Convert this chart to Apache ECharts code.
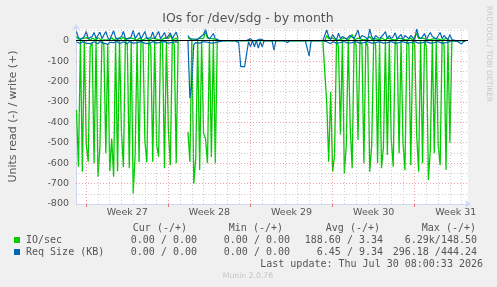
<!DOCTYPE html>
<html>
<head>
<meta charset="utf-8">
<title>IOs for /dev/sdg - by month</title>
<script src="https://cdn.jsdelivr.net/npm/echarts@6.0.0/dist/echarts.min.js"></script>
<style>
  html, body { margin: 0; padding: 0; background: #f0f0f0; }
  #chart { width: 497px; height: 287px; }
</style>
</head>
<body>
<div id="chart"></div>
<script>
// x = hours since Monday 00:00 of week 27, one sample every 4 hours
const firstHour = -20;
const stepHours = 4;

const weekLabels = ['Week 27', 'Week 28', 'Week 29', 'Week 30', 'Week 31'];
const weekStartHours = [0, 168, 336, 504, 672];

// IO/sec, read (drawn below zero)
const ioRead = [
  340, 617, 0, 642, 0, 510, 593, 30, 10, 600,
  0, 666, 519, 0, 20, 552, 20, 640, 480, 666,
  0, 640, 0, 446, 620, 0, 20, 625, 0, 748,
  560, 0, 596, 0, 10, 495, 596, 0, 30, 593,
  0, 511, 568, 0, 10, 625, 0, 440, 610, 0,
  20, 600, 0, null, null, null, null, 446, 593, 0,
  700, 576, 0, 634, 0, 455, 480, 600, 0, 570,
  0, 600, 0, 0, 0, 0, 0, 0, 0, 0,
  0, 0, 0, 0, 0, 0, 0, 0, 0, 0,
  0, 0, 0, 0, 0, 0, 0, 0, 0, 0,
  0, 0, 0, 0, 0, 0, 0, 0, 0, 0,
  0, 0, 0, 0, 0, 0, 0, 0, 0, 0,
  0, 0, 0, 0, 0, 0, 0, 0, 307, 593,
  250, 642, 560, 0, 30, 460, 0, 650, 511, 0,
  421, 625, 0, 20, 487, 0, 20, 600, 0, 30,
  642, 511, 0, 20, 600, 0, 625, 520, 0, 560,
  0, 487, 617, 0, 20, 552, 0, 500, 634, 0,
  20, 610, 0, 20, 462, 642, 0, 600, 0, 30,
  682, 530, 0, 552, 0, 511, 610, 0, 20, 634,
  0, 500, 0, 0, 0, 0, 0, 0, 0, 0
];

// IO/sec, write (drawn above zero)
const ioWrite = [
  20, 8, 2, 10, 3, 15, 6, 2, 12, 5,
  3, 14, 6, 2, 10, 4, 12, 5, 15, 3,
  2, 12, 4, 8, 18, 3, 2, 14, 5, 10,
  6, 2, 12, 4, 3, 8, 15, 2, 5, 12,
  3, 8, 14, 2, 6, 12, 3, 10, 28, 4,
  2, 12, 3, null, null, null, null, 15, 8, 3,
  10, 5, 2, 12, 4, 10, 45, 12, 3, 10,
  4, 8, 3, 0, 0, 0, 0, 0, 0, 0,
  0, 0, 0, 0, 0, 0, 0, 0, 0, 0,
  0, 0, 0, 0, 0, 0, 0, 0, 0, 0,
  0, 0, 0, 0, 0, 0, 0, 0, 0, 0,
  0, 0, 0, 0, 0, 0, 0, 0, 0, 0,
  0, 0, 0, 0, 0, 0, 0, 0, 25, 10,
  4, 12, 6, 2, 10, 5, 2, 14, 6, 2,
  10, 30, 4, 2, 12, 3, 6, 14, 3, 8,
  20, 6, 2, 10, 12, 3, 14, 5, 2, 12,
  4, 8, 16, 3, 2, 12, 4, 8, 15, 3,
  6, 12, 2, 8, 35, 10, 3, 12, 4, 6,
  14, 5, 2, 10, 3, 8, 14, 2, 6, 12,
  3, 0, 0, 0, 0, 0, 0, 0, 0, 0
];

// Req Size (KB), read (drawn below zero)
const reqRead = [
  5, 10, 15, 5, 8, 12, 5, 15, 10, 5,
  8, 15, 5, 10, 12, 5, 18, 8, 5, 10,
  12, 5, 15, 8, 5, 10, 15, 5, 8, 12,
  5, 10, 15, 5, 8, 12, 5, 15, 8, 5,
  10, 12, 5, 8, 15, 5, 10, 12, 5, 8,
  15, 5, 10, null, null, null, null, 0, 282, 200,
  20, 10, 5, 12, 8, 5, 10, 8, 5, 12,
  5, 10, 5, 5, 0, 0, 0, 0, 0, 0,
  0, 0, 0, 10, 127, 127, 127, 127, 5, 29,
  0, 30, 0, 37, 5, 30, 0, 0, 0, 0,
  0, 46, 0, 0, 0, 0, 0, 0, 10, 0,
  0, 0, 0, 0, 7, 0, 0, 0, 0, 75,
  0, 0, 0, 0, 0, 0, 0, 5, 5, 10,
  15, 5, 8, 12, 5, 10, 15, 5, 8, 12,
  5, 10, 15, 5, 8, 12, 5, 10, 15, 5,
  8, 12, 5, 10, 15, 5, 8, 12, 5, 10,
  15, 5, 8, 12, 5, 10, 15, 5, 8, 12,
  5, 10, 15, 5, 8, 12, 5, 10, 15, 5,
  8, 12, 5, 10, 15, 5, 8, 12, 5, 10,
  15, 5, 8, 0, 0, 5, 0, 16, 5, 0
];

// Req Size (KB), write (drawn above zero)
const reqWrite = [
  45, 15, 5, 10, 20, 45, 10, 5, 20, 40,
  10, 5, 42, 10, 5, 45, 15, 5, 10, 48,
  15, 5, 10, 20, 45, 10, 5, 10, 20, 50,
  10, 5, 40, 8, 5, 45, 10, 5, 15, 42,
  10, 5, 45, 8, 10, 40, 10, 15, 38, 10,
  15, 42, 10, null, null, null, null, 25, 10, 5,
  8, 12, 5, 15, 10, 30, 55, 20, 8, 15,
  35, 10, 5, 0, 0, 0, 0, 0, 0, 0,
  0, 0, 0, 0, 0, 0, 0, 0, 0, 10,
  0, 0, 0, 0, 8, 0, 0, 0, 0, 0,
  0, 0, 0, 0, 0, 0, 0, 0, 0, 0,
  0, 0, 0, 0, 0, 0, 0, 0, 0, 0,
  0, 0, 0, 0, 0, 0, 0, 0, 52, 20,
  5, 30, 15, 5, 36, 10, 20, 25, 8, 15,
  25, 20, 10, 5, 52, 10, 25, 30, 15, 5,
  57, 20, 5, 25, 30, 10, 15, 30, 44, 10,
  25, 10, 20, 38, 8, 20, 30, 5, 25, 30,
  10, 25, 15, 5, 57, 20, 10, 20, 35, 5,
  25, 40, 20, 15, 8, 15, 40, 10, 25, 15,
  5, 30, 5, 0, 0, 0, 0, 0, 0, 0
];

const legendHeaders = ['Cur (-/+)', 'Min (-/+)', 'Avg (-/+)', 'Max (-/+)'];
const legendNames = ['IO/sec', 'Req Size (KB)'];
const curText = ['0.00 / 0.00', '0.00 / 0.00'];
const minText = ['0.00 / 0.00', '0.00 / 0.00'];
const avgText = ['188.60 / 3.34', '6.45 / 9.34'];
const maxText = ['6.29k/148.50', '296.18 /444.24'];
const lastUpdate = 'Last update: Thu Jul 30 08:00:33 2026';

const GREEN = '#00cc00';
const BLUE = '#0066b3';
const TEXT = '#555';
const SANS = '"DejaVu Sans", sans-serif';
const MONO = '"DejaVu Sans Mono", monospace';

const toPoints = (values, sign) =>
  values.map((v, i) => [firstHour + i * stepHours, v == null ? null : sign * v]);

const lineSeries = (name, values, sign, color, width) => ({
  name,
  type: 'line',
  data: toPoints(values, sign),
  showSymbol: false,
  symbol: 'none',
  connectNulls: false,
  lineStyle: { color, width },
  animation: false,
  silent: true,
});

// grid lines: red dotted on week starts / every 100, grey dotted on days / halfway
const redGrid = { color: 'rgba(235,70,70,0.5)', width: 1, type: [1, 2] };
const greyGrid = { color: 'rgba(170,170,170,0.6)', width: 1, type: [1, 2] };
const gridLines = [];
for (let h = 24; h < 781; h += 24) {
  if (weekStartHours.indexOf(h) === -1) gridLines.push({ xAxis: h, lineStyle: greyGrid });
}
weekStartHours.forEach(h => gridLines.push({ xAxis: h, lineStyle: redGrid }));
for (let v = -750; v <= 50; v += 100) gridLines.push({ yAxis: v, lineStyle: greyGrid });
for (let v = -700; v < 0; v += 100) gridLines.push({ yAxis: v, lineStyle: redGrid });

const text = (str, x, y, align, font, fill) => ({
  type: 'text',
  x,
  y,
  silent: true,
  style: {
    text: str,
    font,
    fill: fill || TEXT,
    textAlign: align,
    textVerticalAlign: 'middle',
    align,
    verticalAlign: 'middle',
  },
});

const mono = '10px ' + MONO;
const headerRight = [187, 283, 380, 476];
const valueRight = [197, 290, 383, 477];
const rowY = [240, 252];

const graphics = [
  text('IOs for /dev/sdg - by month', 248, 19, 'center', '12.5px ' + SANS),
  Object.assign(text('RRDTOOL / TOBI OETIKER', 489, 54, 'center', '7.5px ' + SANS, '#c8c8c8'), {
    rotation: -Math.PI / 2,
  }),
  text('Munin 2.0.76', 248, 276, 'center', '7.7px ' + SANS, '#c4c4c4'),
  text(lastUpdate, 483, 264, 'right', mono),
];
legendHeaders.forEach((h, i) => graphics.push(text(h, headerRight[i], 228, 'right', mono)));
legendNames.forEach((name, r) => {
  graphics.push({
    type: 'rect',
    shape: { x: 14, y: rowY[r] - 3, width: 6, height: 6 },
    style: { fill: r === 0 ? GREEN : BLUE },
    silent: true,
  });
  graphics.push(text(name, 26, rowY[r], 'left', mono));
  [curText, minText, avgText, maxText].forEach((col, c) =>
    graphics.push(text(col[r], valueRight[c], rowY[r], 'right', mono)),
  );
});

const chart = echarts.init(document.getElementById('chart'), null, { renderer: 'canvas' });

chart.setOption({
  backgroundColor: '#f0f0f0',
  animation: false,
  grid: {
    left: 67,
    top: 29,
    width: 401,
    height: 175,
    show: true,
    backgroundColor: '#ffffff',
    borderWidth: 0,
  },
  xAxis: {
    type: 'value',
    min: -21,
    max: 781,
    axisLine: {
      show: true,
      onZero: false,
      lineStyle: { color: '#cfd6f8' },
      symbol: ['none', 'arrow'],
      symbolSize: [6, 6],
      symbolOffset: [0, 3],
    },
    axisTick: {
      show: true,
      customValues: weekStartHours,
      length: 3,
      lineStyle: { color: 'rgba(235,70,70,0.7)' },
    },
    axisLabel: {
      customValues: weekStartHours.map(h => h + 84),
      formatter: v => weekLabels[Math.round((v - 84) / 168)],
      margin: 4,
      fontFamily: SANS,
      fontSize: 9.5,
      color: TEXT,
    },
    splitLine: { show: false },
  },
  yAxis: {
    type: 'value',
    min: -800,
    max: 57,
    interval: 100,
    name: 'Units read (-) / write (+)',
    nameLocation: 'middle',
    nameGap: 57,
    nameRotate: 90,
    nameTextStyle: { fontFamily: SANS, fontSize: 11, color: TEXT },
    axisLine: {
      show: true,
      onZero: false,
      lineStyle: { color: '#cfd6f8' },
      symbol: ['none', 'arrow'],
      symbolSize: [6, 6],
      symbolOffset: [0, 5],
    },
    axisTick: { show: false },
    axisLabel: {
      margin: 7,
      fontFamily: SANS,
      fontSize: 9.5,
      color: TEXT,
      formatter: v => (v % 100 === 0 ? String(v) : ''),
    },
    splitLine: { show: false },
  },
  series: [
    {
      type: 'line',
      data: [],
      z: 1,
      silent: true,
      markLine: {
        silent: true,
        animation: false,
        symbol: ['none', 'none'],
        label: { show: false },
        data: gridLines,
      },
    },
    lineSeries('IO/sec read', ioRead, -1, GREEN, 1.3),
    lineSeries('IO/sec write', ioWrite, 1, GREEN, 1.3),
    lineSeries('Req Size read', reqRead, -1, BLUE, 1.2),
    lineSeries('Req Size write', reqWrite, 1, BLUE, 1.2),
    {
      type: 'line',
      data: [],
      z: 5,
      silent: true,
      markLine: {
        silent: true,
        animation: false,
        symbol: ['none', 'none'],
        label: { show: false },
        lineStyle: { color: '#000', width: 1, type: 'solid' },
        data: [{ yAxis: 0 }],
      },
    },
  ],
  graphic: graphics,
});
</script>
</body>
</html>
